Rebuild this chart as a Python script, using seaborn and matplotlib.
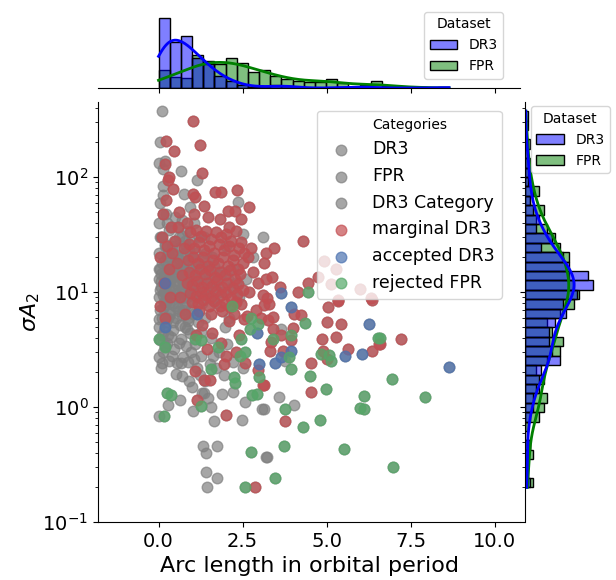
import numpy as np
import pandas as pd
import matplotlib
matplotlib.use("Agg")
import matplotlib.pyplot as plt
import seaborn as sns

# (arc length, sigma A2)
dr3_gray = [
    (0.10, 375), (0.03, 200), (0.00, 133), (0.20, 137), (0.13, 118), (0.13, 83), (0.05, 60), (0.22, 48),
    (0.13, 48), (0.02, 40), (0.30, 35), (0.08, 30), (0.18, 26), (0.00, 22), (0.25, 20), (0.10, 18),
    (0.05, 16), (0.28, 15), (0.15, 14), (0.00, 13), (0.20, 12), (0.08, 11), (0.32, 10.5), (0.12, 9.5),
    (0.02, 9), (0.25, 8.5), (0.18, 7.8), (0.05, 7), (0.30, 6.5), (0.10, 6), (0.22, 5.5), (0.00, 5),
    (0.15, 4.6), (0.28, 4.2), (0.05, 3.8), (0.20, 3.4), (0.12, 3.0), (0.00, 2.7), (0.30, 2.5), (0.08, 2.2),
    (0.00, 0.83), (0.28, 1.05), (0.18, 25), (0.26, 17), (0.06, 12.5), (0.16, 10), (0.30, 8), (0.02, 5.8),
    (0.24, 40), (0.12, 70), (0.04, 10.5), (0.22, 9), (0.14, 7.2), (0.27, 6), (0.09, 4.2), (0.19, 19),
    (0.31, 13), (0.01, 16), (0.24, 3.6), (0.11, 2.4),
    (0.07, 14.5), (0.21, 11.5), (0.29, 22), (0.16, 8.2), (0.03, 30), (0.26, 12),
    (0.38, 37), (0.57, 37), (0.45, 28), (0.60, 24), (0.35, 20), (0.50, 18), (0.65, 16), (0.40, 14),
    (0.55, 12.5), (0.36, 11), (0.62, 10), (0.48, 9), (0.42, 8), (0.58, 7.2), (0.34, 6.5), (0.52, 6),
    (0.64, 5.2), (0.44, 4.7), (0.38, 4.1), (0.60, 3.6), (0.47, 3.2), (0.52, 1.95), (0.65, 1.14), (0.40, 2.8),
    (0.56, 2.4), (0.35, 15), (0.62, 30), (0.50, 45), (0.44, 22), (0.66, 13), (0.38, 9.5),
    (0.36, 13), (0.41, 17), (0.46, 10.5), (0.51, 14), (0.54, 21), (0.59, 11.5), (0.63, 19), (0.39, 25),
    (0.49, 7.5), (0.61, 6.8), (0.43, 5.5), (0.57, 16), (0.66, 8.8),
    (0.67, 114), (0.75, 72), (0.95, 55), (0.70, 42), (0.85, 34), (0.78, 28), (0.92, 23), (0.68, 20),
    (0.88, 18), (0.73, 16), (0.97, 14), (0.80, 12.5), (0.69, 11), (0.90, 10), (0.76, 9), (0.84, 8),
    (0.98, 7), (0.71, 6.3), (0.87, 5.6), (0.79, 5), (0.94, 4.4), (0.68, 3.9), (0.83, 3.4), (0.96, 3.0),
    (0.74, 2.7), (0.69, 1.85), (0.67, 2.4), (0.87, 2.46), (0.92, 1.7), (0.82, 25), (0.72, 13), (0.93, 9.5),
    (0.78, 7.5), (0.86, 4.8), (0.98, 20), (0.70, 31),
    (0.68, 15), (0.71, 10.5), (0.74, 18), (0.77, 12), (0.80, 22), (0.83, 14), (0.86, 9), (0.89, 13),
    (0.91, 16), (0.94, 11), (0.96, 27), (0.99, 12), (0.72, 7), (0.88, 6),
    (1.15, 95), (1.02, 0.93), (1.05, 40), (1.20, 30), (1.10, 22), (1.28, 17), (1.08, 13), (1.22, 11),
    (1.12, 9), (1.30, 8), (1.04, 6.5), (1.18, 5.5), (1.25, 4.5), (1.08, 3.5), (1.30, 1.32), (1.27, 2.8),
    (1.14, 2.2), (1.01, 1.5), (1.32, 0.455), (1.22, 1.9), (1.06, 2.6),
    (1.03, 15), (1.09, 10), (1.13, 17), (1.17, 12), (1.21, 14), (1.26, 9.5), (1.31, 19),
    (1.35, 1.32), (1.42, 0.4), (1.40, 0.27), (1.44, 0.2), (1.52, 2.35), (1.37, 1.68), (1.57, 1.01), (1.65, 0.76),
    (1.55, 4.0), (1.45, 12), (1.60, 20), (1.38, 6), (1.48, 1.2), (1.62, 2.8), (1.50, 9), (1.35, 30),
    (1.36, 14), (1.41, 10), (1.46, 16), (1.51, 13), (1.56, 11), (1.61, 8.5), (1.66, 17),
    (1.71, 2.2), (1.94, 1.9), (1.75, 0.455), (1.74, 0.24), (1.88, 1.3), (1.80, 3.0), (1.90, 15), (1.70, 8),
    (1.97, 5), (1.72, 12), (1.83, 14), (1.93, 10),
    (2.21, 2.46), (2.21, 1.34), (2.10, 6), (2.30, 12), (2.05, 3.5), (2.08, 13), (2.18, 11),
    (2.36, 61), (2.51, 2.2), (2.50, 32),
]

fpr_gray = [
    (3.08, 0.97), (3.20, 0.37), (3.57, 1.22), (4.03, 1.05), (3.15, 0.97), (3.23, 0.37), (3.63, 4.8), (3.75, 2.5),
    (2.48, 0.77), (2.56, 1.1), (1.10, 18), (1.25, 12), (1.40, 22), (1.60, 14), (1.80, 10), (2.00, 25),
    (2.20, 16), (2.40, 9), (2.60, 13), (2.80, 20), (3.10, 30),
]

dr3_category = []

marginal_dr3 = [
    (1.04, 305), (0.23, 208), (0.45, 170), (1.22, 192), (0.18, 129), (1.29, 108), (0.28, 95), (0.43, 79),
    (1.02, 72), (1.07, 67), (1.67, 74), (1.85, 74), (2.34, 78), (2.68, 55), (0.23, 63), (1.35, 56),
    (2.06, 51), (2.26, 51), (1.82, 43), (2.44, 43), (0.13, 48), (1.47, 45), (0.57, 37), (0.38, 37),
    (2.11, 37), (1.05, 48),
    (4.30, 28), (3.43, 24), (3.20, 22), (3.37, 13.5), (3.60, 11), (4.44, 12), (4.15, 10), (4.92, 18.6),
    (5.29, 16), (4.74, 13.5), (5.13, 11.8), (6.00, 10.7), (5.34, 8.5), (6.33, 8.8), (3.15, 18),
    (3.23, 8.8), (3.15, 7.7), (3.30, 7.9), (3.40, 6.1), (3.27, 5.7), (4.03, 6.5), (4.23, 6.3), (4.00, 4.9),
    (3.65, 4.2), (3.95, 3.8), (3.40, 4.8), (3.35, 3.7), (3.33, 3.1), (3.70, 3.1), (5.04, 7.4), (5.34, 8.3),
    (5.02, 5.5), (5.42, 5.3), (5.29, 4.1), (4.87, 3.9), (4.89, 3.1), (5.02, 2.6), (5.63, 3.2), (6.35, 8.5),
    (6.55, 3.5), (6.35, 3.1), (4.54, 2.4), (4.52, 1.35), (3.15, 1.57), (3.77, 0.75), (7.22, 3.9), (6.58, 3.5),
    (1.07, 2.06), (1.96, 2.35), (1.35, 1.73), (1.52, 1.73), (2.56, 2.4), (2.95, 2.08), (3.10, 1.57), (1.15, 1.14),
    (2.01, 0.85), (2.88, 0.2),
    (0.95, 33), (1.10, 35), (1.25, 31), (1.40, 34), (1.55, 29), (1.70, 33), (1.85, 30), (2.00, 32),
    (2.15, 28), (2.30, 34), (2.45, 27),
    (0.90, 26), (1.05, 24), (1.20, 27), (1.35, 23), (1.50, 25), (1.65, 22), (1.80, 26), (1.95, 23),
    (2.10, 25), (2.25, 21), (2.40, 24), (2.55, 22),
    (0.88, 19), (1.02, 20), (1.18, 18), (1.32, 20), (1.47, 17), (1.62, 19), (1.78, 18), (1.92, 20),
    (2.08, 17), (2.22, 19), (2.37, 16), (2.52, 18),
    (0.92, 15), (1.07, 14), (1.22, 16), (1.37, 14.5), (1.52, 15.5), (1.68, 13.5), (1.83, 15), (1.98, 14),
    (2.13, 15.5), (2.28, 13), (2.43, 14.5),
    (0.86, 12), (1.00, 11.5), (1.15, 12.5), (1.30, 11), (1.45, 12), (1.60, 11.2), (1.75, 12.8), (1.90, 11),
    (2.05, 12), (2.20, 10.8), (2.35, 11.8), (2.50, 10.5),
    (0.95, 9.8), (1.10, 9.2), (1.27, 10), (1.42, 9.5), (1.57, 9), (1.72, 10.2), (1.87, 9.4), (2.02, 9.8),
    (2.17, 8.8), (2.32, 9.6),
    (1.00, 8.2), (1.16, 7.8), (1.33, 8.5), (1.50, 7.6), (1.66, 8.3), (1.82, 7.5), (1.98, 8), (2.14, 7.4),
    (2.30, 8.2), (2.46, 7.8), (1.20, 6.8), (1.55, 6.5), (1.90, 6.9), (2.25, 6.4),
    (2.65, 20), (2.80, 15), (2.95, 12), (3.10, 9.5), (2.70, 10), (2.90, 7), (3.05, 6), (2.62, 6.2),
    (2.75, 24), (3.20, 13),
    (0.10, 30), (0.25, 25), (0.05, 20), (0.30, 16), (0.15, 12), (0.40, 22), (0.55, 18), (0.70, 14),
    (0.35, 9), (0.05, 7.5), (0.20, 6), (0.50, 28), (0.65, 9), (0.80, 6.5), (0.60, 50), (0.85, 40),
    (0.30, 100), (0.75, 24),
    (1.30, 5.2), (1.60, 4.4), (1.85, 3.6), (2.10, 5.6), (2.40, 4.2), (2.55, 5.8), (1.45, 3.2), (2.00, 2.8),
    (2.30, 3.0), (1.10, 4.2),
]

accepted_dr3 = [
    (0.20, 12), (1.15, 6.5), (0.20, 5), (2.94, 4.4), (3.00, 2.35), (3.63, 9.8), (3.93, 7.4),
    (6.25, 5.3), (3.95, 3.05), (3.65, 2.7), (3.45, 2.4), (5.55, 2.8), (6.04, 2.9), (8.64, 2.23),
]

rejected_fpr = [
    (2.18, 7.6), (2.76, 6.0), (2.96, 5.25), (2.71, 4.8), (0.00, 3.9), (0.18, 3.3), (1.07, 3.9), (1.27, 3.8),
    (1.77, 3.3), (2.46, 3.9), (2.56, 3.0), (2.41, 2.76), (1.57, 2.15), (2.24, 1.82), (2.28, 1.62), (0.26, 1.32),
    (0.38, 1.26), (1.27, 1.03), (0.16, 0.83), (2.78, 1.26), (2.94, 1.29), (3.00, 1.82), (2.76, 0.41), (2.56, 0.2),
    (4.44, 10), (4.35, 5.4), (3.40, 3.9), (3.95, 4.2), (3.87, 2.7), (3.95, 2.16), (4.82, 2.9), (5.06, 2.85),
    (5.12, 2.5), (4.49, 1.86), (4.99, 1.44), (6.53, 4.0), (6.11, 1.25), (5.98, 0.98), (6.11, 0.97), (3.77, 0.97),
    (4.79, 0.77), (4.30, 0.67), (3.73, 0.46), (5.51, 0.43), (3.47, 0.24), (6.95, 1.77), (7.92, 1.22), (6.97, 0.3),
    (6.58, 4.0),
]


def frame(points, dataset, category):
    arr = np.array(points, dtype=float).reshape(-1, 2)
    return pd.DataFrame({"arc": arr[:, 0], "sigma": arr[:, 1],
                         "Dataset": dataset, "Category": category})


df = pd.concat([
    frame(dr3_gray, "DR3", "DR3"),
    frame(accepted_dr3, "DR3", "accepted DR3"),
    frame(fpr_gray, "FPR", "FPR"),
    frame(marginal_dr3, "FPR", "marginal DR3"),
    frame(rejected_fpr, "FPR", "rejected FPR"),
], ignore_index=True)

W, H = 616, 580
g = sns.JointGrid(data=df, x="arc", y="sigma")
g.figure.set_size_inches(W / 100, H / 100)
g.ax_joint.set_position([98 / W, 58 / H, 422 / W, 420 / H])
g.ax_marg_x.set_position([98 / W, (H - 88) / H, 422 / W, 74 / H])
g.ax_marg_y.set_position([525 / W, 58 / H, 85 / W, 420 / H])

ax = g.ax_joint
ax.set_yscale("log")

pt = dict(s=58, alpha=0.7, edgecolor="face", linewidth=1, ax=ax)
# all points in gray first
sns.scatterplot(data=df[df.Dataset == "DR3"], x="arc", y="sigma", color="gray", label="DR3", **pt)
sns.scatterplot(data=df[df.Dataset == "FPR"], x="arc", y="sigma", color="gray", label="FPR", **pt)
ax.scatter([p[0] for p in dr3_category], [p[1] for p in dr3_category], s=58, alpha=0.7,
           color="gray", label="DR3 Category")
# categories on top
cat_colors = {"marginal DR3": "#c44e52", "accepted DR3": "#4c72b0", "rejected FPR": "#55a868"}
for cat, col in cat_colors.items():
    sns.scatterplot(data=df[df.Category == cat], x="arc", y="sigma", color=col, label=cat, **pt)

ax.set_xticks([0, 2.5, 5, 7.5, 10])
ax.tick_params(labelsize=14)
ax.set_xlabel("Arc length in orbital period", fontsize=16)
ax.set_ylabel(r"$\sigma A_2$", fontsize=16, labelpad=0)
ax.legend(title="Categories", loc="upper right", bbox_to_anchor=(0.957, 0.979),
          borderaxespad=0, fontsize=12.5, title_fontsize=10)

pal = {"DR3": "blue", "FPR": "green"}
hist_kw = dict(data=df, hue="Dataset", hue_order=["DR3", "FPR"], palette=pal, kde=True,
               alpha=0.5, edgecolor="black", linewidth=1, line_kws={"linewidth": 2})
sns.histplot(x="arc", bins=26, ax=g.ax_marg_x, **hist_kw)
sns.histplot(y="sigma", bins=40, log_scale=True, ax=g.ax_marg_y, **hist_kw)

mx, my = g.ax_marg_x, g.ax_marg_y
mx.set_xlabel("")
mx.set_ylabel("")
my.set_xlabel("")
my.set_ylabel("")
mx.tick_params(labelbottom=False, left=False, labelleft=False)
my.tick_params(labelleft=False, bottom=False, labelbottom=False)
widest = max(p.get_width() for p in my.patches)
my.set_xlim(0, widest * 1.25)
ax.set_xlim(-1.8, 10.75)
ax.set_ylim(0.1, 450)

sns.move_legend(mx, "upper right", bbox_to_anchor=(0.96, 1.03), borderaxespad=0,
                fontsize=10, title_fontsize=10)
sns.move_legend(my, "upper right", bbox_to_anchor=(1.0, 0.99), borderaxespad=0,
                fontsize=10, title_fontsize=10)

g.figure.savefig("out.png", dpi=100)
